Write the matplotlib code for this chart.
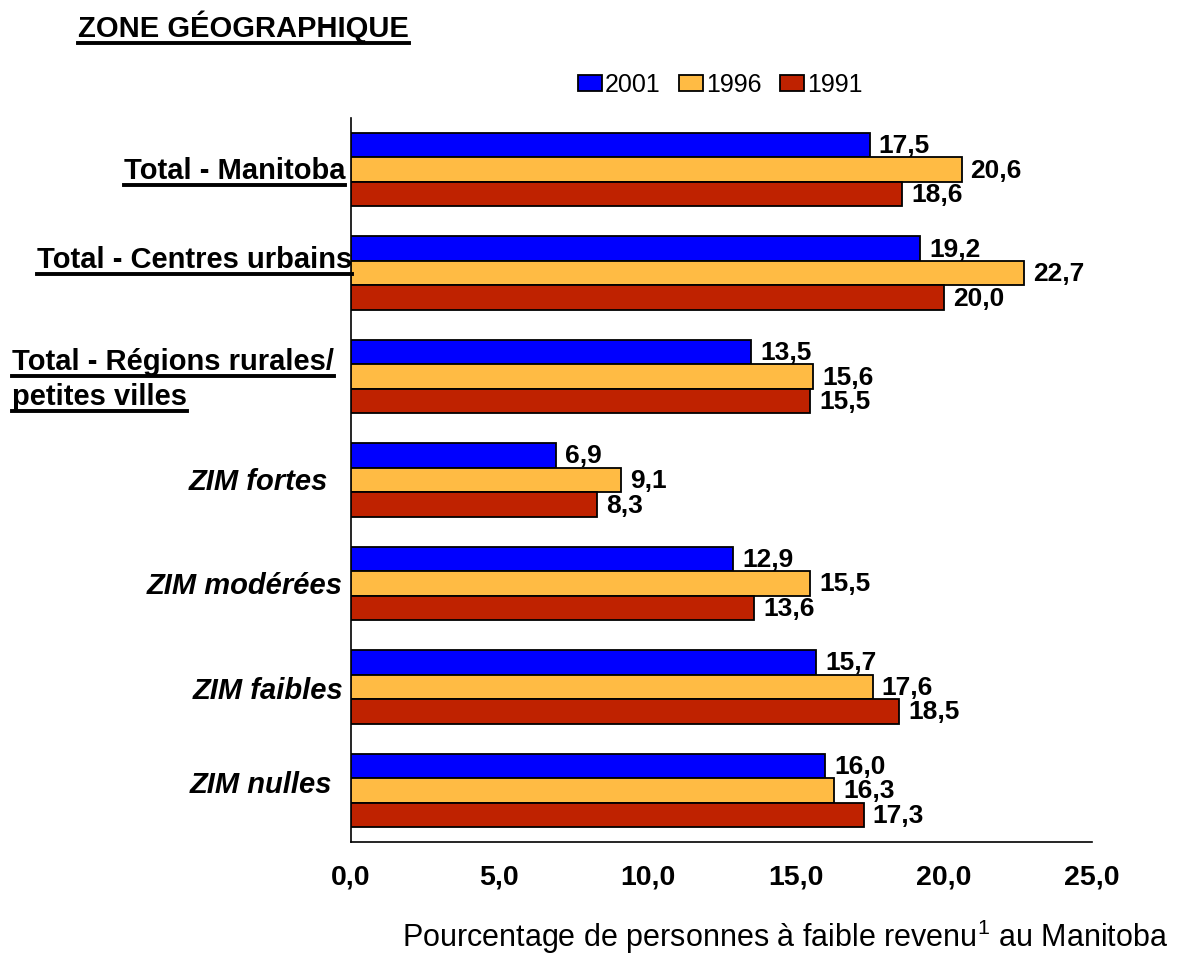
import matplotlib
matplotlib.use("Agg")
import matplotlib.pyplot as plt
from matplotlib.patches import Patch
from matplotlib.lines import Line2D
import numpy as np

plt.rcParams["font.family"] = ["Liberation Sans", "DejaVu Sans"]
plt.rcParams["mathtext.fontset"] = "custom"
plt.rcParams["mathtext.rm"] = "Liberation Sans"
plt.rcParams["mathtext.it"] = "Liberation Sans:italic"
plt.rcParams["mathtext.bf"] = "Liberation Sans:bold"

# ---------------- data ----------------
categories = ["Total - Manitoba", "Total - Centres urbains",
              "Total - Régions rurales/", "ZIM fortes", "ZIM modérées",
              "ZIM faibles", "ZIM nulles"]
cat_line2 = ["", "", "petites villes", "", "", "", ""]
is_total = [True, True, True, False, False, False, False]
years = ["2001", "1996", "1991"]
v2001 = [17.5, 19.2, 13.5, 6.9, 12.9, 15.7, 16.0]
v1996 = [20.6, 22.7, 15.6, 9.1, 15.5, 17.6, 16.3]
v1991 = [18.6, 20.0, 15.5, 8.3, 13.6, 18.5, 17.3]
xticks = [0, 5, 10, 15, 20, 25]
title = "ZONE GÉOGRAPHIQUE"
xlabel = r"Pourcentage de personnes à faible revenu$^{1}$ au Manitoba"

# ---------------- style / layout ----------------
colors = ["#0000FF", "#FFBB44", "#BF2200"]
series = [v2001, v1996, v1991]
# (dx px, dy px downward of baseline from category centre, ha)
label_layout = [(-6, 9, "right"), (1, -5, "right"), (-339, -7, "left"),
                (-23, 10, "right"), (-8, 11, "right"), (-8, 12, "right"),
                (-19, 3, "right")]

W, H = 1182, 958
fig = plt.figure(figsize=(W / 100, H / 100), dpi=100)
ax = fig.add_axes([351 / W, 1 - 842 / H, (1092 - 351) / W, (842 - 118) / H])

y = np.arange(len(categories))
bh = 0.237
for k, (vals, col, yr) in enumerate(zip(series, colors, years)):
    pos = y + (k - 1) * bh
    ax.barh(pos, vals, height=bh, color=col, edgecolor="black", linewidth=1.3,
            label=yr, zorder=3)
    for p, v in zip(pos, vals):
        ax.annotate(f"{v:.1f}".replace(".", ","), xy=(v, p), xytext=(9, -1),
                    textcoords="offset pixels", ha="left", va="center",
                    fontsize=19, fontweight="bold", zorder=4)

ax.set_xlim(0, 25)
ax.set_ylim(len(categories) - 0.5, -0.5)
ax.set_xticks(xticks)
ax.set_xticklabels([f"{t:.1f}".replace(".", ",") for t in xticks],
                   fontsize=20.5, fontweight="bold")
ax.tick_params(axis="x", length=0, pad=16)
ax.set_yticks([])
for s in ["top", "right"]:
    ax.spines[s].set_visible(False)
for s in ["left", "bottom"]:
    ax.spines[s].set_linewidth(1.2)

underline_jobs = []
for i, (name, l2, tot, (dx, dy, ha)) in enumerate(
        zip(categories, cat_line2, is_total, label_layout)):
    style = "normal" if tot else "italic"
    lines = [name] + ([l2] if l2 else [])
    for j, line in enumerate(lines):
        ddy = dy + j * 35
        t = ax.annotate(line, xy=(0, i), xycoords=("axes fraction", "data"),
                        xytext=(dx, -ddy), textcoords="offset pixels",
                        ha=ha, va="baseline", fontsize=21,
                        fontweight="bold", fontstyle=style,
                        annotation_clip=False)
        if tot:
            underline_jobs.append((t, i, ddy))

# title
tt = fig.text(78 / W, 1 - 37 / H, title, fontsize=21, fontweight="bold",
              ha="left", va="baseline")

# x label
fig.text(1168 / W, 1 - 947 / H, xlabel, fontsize=22, ha="right",
         va="baseline")

# legend
handles = [Patch(facecolor=c, edgecolor="black", linewidth=1.3, label=yr)
           for c, yr in zip(colors, years)]
fig.legend(handles=handles, loc="center", bbox_to_anchor=(720 / W, 1 - 85 / H),
           ncol=3, frameon=False, fontsize=18, handlelength=0.95,
           handleheight=0.62, handletextpad=0.12, columnspacing=0.75,
           borderaxespad=0)

# underlines
fig.canvas.draw()
r = fig.canvas.get_renderer()
for t, i, ddy in underline_jobs:
    bb = t.get_window_extent(r)
    base = ax.transData.transform((0, i))[1] - ddy
    yl = (base - 6) / H
    fig.add_artist(Line2D([bb.x0 / W, bb.x1 / W], [yl, yl],
                          transform=fig.transFigure, color="black", lw=2.8))
bb = tt.get_window_extent(r)
yl = (H - 37 - 6) / H
fig.add_artist(Line2D([bb.x0 / W, bb.x1 / W], [yl, yl],
                      transform=fig.transFigure, color="black", lw=2.8))

fig.savefig("out.png", dpi=100)
